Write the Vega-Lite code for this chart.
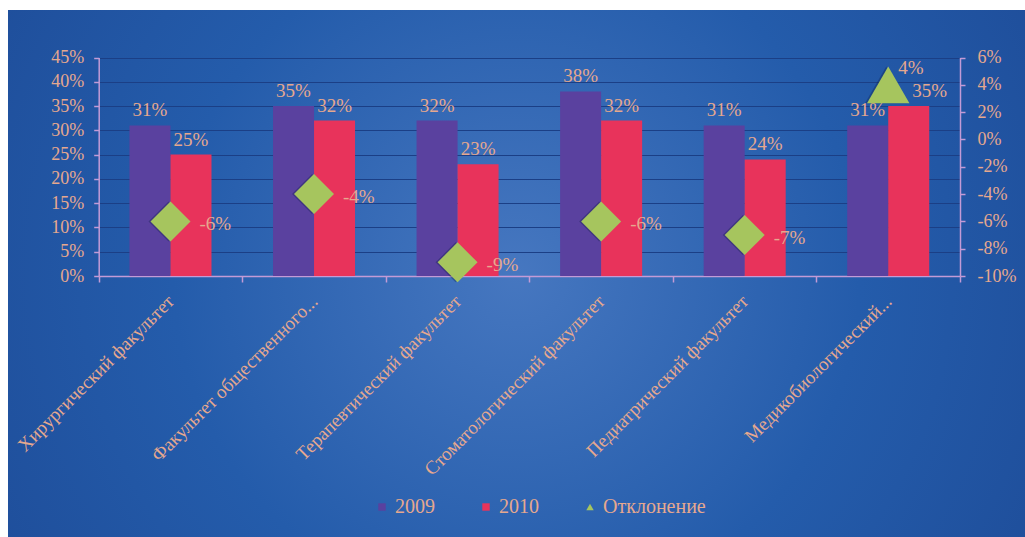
{
  "$schema": "https://vega.github.io/schema/vega-lite/v6.json",
  "width": 1017,
  "height": 527,
  "autosize": {"type": "none"},
  "padding": {"left": 8, "top": 10, "right": 0, "bottom": 0},
  "background": "white",
  "view": {
    "stroke": null,
    "fill": {
      "gradient": "radial",
      "x1": 0.5, "y1": 0.5, "r1": 0,
      "x2": 0.5, "y2": 0.5, "r2": 0.75,
      "stops": [
        {"offset": 0, "color": "#4677c0"},
        {"offset": 0.45, "color": "#245cab"},
        {"offset": 1, "color": "#1b4590"}
      ]
    }
  },
  "data": {
    "values": [
      {"fac": "Хирургический факультет", "2009": 0.31, "2010": 0.25, "dev": -0.06},
      {"fac": "Факультет общественного...", "2009": 0.35, "2010": 0.32, "dev": -0.04},
      {"fac": "Терапевтический факультет", "2009": 0.32, "2010": 0.23, "dev": -0.09},
      {"fac": "Стоматологический факультет", "2009": 0.38, "2010": 0.32, "dev": -0.06},
      {"fac": "Педиатрический факультет", "2009": 0.31, "2010": 0.24, "dev": -0.07},
      {"fac": "Медикобиологический...", "2009": 0.31, "2010": 0.35, "dev": 0.04}
    ]
  },
  "layer": [
    {
      "transform": [{"fold": ["2009", "2010"], "as": ["series", "share"]}],
      "layer": [
        {
          "mark": {"type": "bar"},
          "encoding": {
            "x": {
              "field": "fac", "type": "nominal", "sort": null,
              "scale": {"range": [90.7, 952], "paddingInner": 0, "paddingOuter": 0},
              "axis": {
                "title": null, "offset": -261, "grid": false,
                "tickBand": "extent", "tickSize": 6,
                "labelAngle": -45, "labelAlign": "right", "labelBaseline": "middle",
                "labelPadding": 16, "labelLimit": 400, "labelFontSize": 19
              }
            },
            "xOffset": {
              "field": "series", "type": "nominal",
              "scale": {"paddingInner": 0, "paddingOuter": 0.75}
            },
            "y": {
              "field": "share", "type": "quantitative",
              "scale": {"domain": [0, 0.45], "range": [266, 47.5], "nice": false},
              "axis": {
                "title": null, "offset": -90.7, "orient": "left",
                "values": [0, 0.05, 0.1, 0.15, 0.2, 0.25, 0.3, 0.35, 0.4, 0.45],
                "format": ".0%", "grid": true, "gridColor": "#1b3f86", "gridWidth": 1,
                "tickSize": 5, "labelPadding": 10
              }
            },
            "color": {
              "field": "series", "type": "nominal",
              "scale": {
                "domain": ["2009", "2010", "Отклонение"],
                "range": ["#5a419f", "#e8335b", "#a6c55e"]
              },
              "legend": {
                "title": null, "orient": "none", "direction": "horizontal",
                "legendX": 364, "legendY": 487, "padding": 0,
                "symbolSize": 55, "symbolStrokeWidth": 0,
                "labelFontSize": 20,
                "labelOffset": 3, "columnPadding": 41,
                "encode": {
                  "symbols": {
                    "update": {
                      "shape": {"signal": "datum.value === 'Отклонение' ? 'triangle-up' : 'square'"}
                    }
                  }
                }
              }
            }
          }
        },
        {
          "mark": {
            "type": "text", "baseline": "alphabetic", "align": "center", "dy": -9,
            "dx": {"expr": "datum.series === '2010' && datum.dev > 0 ? 21 : 0"}
          },
          "encoding": {
            "x": {"field": "fac", "type": "nominal", "sort": null},
            "xOffset": {"field": "series", "type": "nominal"},
            "y": {"field": "share", "type": "quantitative"},
            "text": {"field": "share", "type": "quantitative", "format": ".0%"}
          }
        }
      ]
    },
    {
      "layer": [
        {
          "mark": {"type": "point", "filled": true, "opacity": 0.35, "strokeWidth": 0, "color": "#0d1f4a", "xOffset": -2, "yOffset": 3},
          "encoding": {
            "x": {"field": "fac", "type": "nominal", "sort": null},
            "y": {"field": "dev", "type": "quantitative"},
            "yOffset": {"condition": {"test": "datum.dev > 0", "value": 4}, "value": 0},
            "size": {"condition": {"test": "datum.dev > 0", "value": 1800}, "value": 1600},
            "shape": {
              "condition": {"test": "datum.dev > 0", "value": "triangle-up"},
              "value": "diamond"
            }
          }
        },
        {
          "mark": {"type": "point", "filled": true, "opacity": 1, "strokeWidth": 0},
          "encoding": {
            "x": {"field": "fac", "type": "nominal", "sort": null},
            "y": {
              "field": "dev", "type": "quantitative",
              "scale": {"domain": [-0.1, 0.06], "range": [266, 47.5], "nice": false, "zero": false},
              "axis": {
                "title": null, "orient": "right", "offset": -65,
                "values": [-0.1, -0.08, -0.06, -0.04, -0.02, 0, 0.02, 0.04, 0.06],
                "format": ".0%", "grid": false, "tickSize": 5, "labelPadding": 12
              }
            },
            "yOffset": {"condition": {"test": "datum.dev > 0", "value": 4}, "value": 0},
            "size": {"condition": {"test": "datum.dev > 0", "value": 1800}, "value": 1600},
            "color": {"datum": "Отклонение", "type": "nominal"},
            "shape": {
              "condition": {"test": "datum.dev > 0", "value": "triangle-up"},
              "value": "diamond"
            }
          }
        },
        {
          "transform": [{"filter": "datum.dev < 0"}],
          "mark": {"type": "text", "align": "left", "baseline": "middle", "dx": 29, "dy": 3},
          "encoding": {
            "x": {"field": "fac", "type": "nominal", "sort": null},
            "y": {"field": "dev", "type": "quantitative"},
            "text": {"field": "dev", "type": "quantitative", "format": ".0%"}
          }
        },
        {
          "transform": [{"filter": "datum.dev > 0"}],
          "mark": {"type": "text", "align": "left", "baseline": "middle", "dx": 10, "dy": -17},
          "encoding": {
            "x": {"field": "fac", "type": "nominal", "sort": null},
            "y": {"field": "dev", "type": "quantitative"},
            "text": {"field": "dev", "type": "quantitative", "format": ".0%"}
          }
        }
      ]
    }
  ],
  "resolve": {"scale": {"y": "independent"}, "axis": {"y": "independent"}},
  "config": {
    "locale": {
      "number": {"decimal": ".", "thousands": ",", "grouping": [3], "currency": ["$", ""], "minus": "-", "percent": "%"}
    },
    "axis": {
      "labelFont": "Liberation Serif",
      "labelFontSize": 18,
      "labelColor": "#e6a88e",
      "domainColor": "#c39bd6",
      "tickColor": "#c39bd6",
      "domainWidth": 1.5,
      "tickWidth": 1.5
    },
    "legend": {
      "labelFont": "Liberation Serif",
      "labelColor": "#e6a88e"
    },
    "text": {
      "font": "Liberation Serif",
      "fontSize": 19,
      "color": "#e6a88e"
    }
  }
}
